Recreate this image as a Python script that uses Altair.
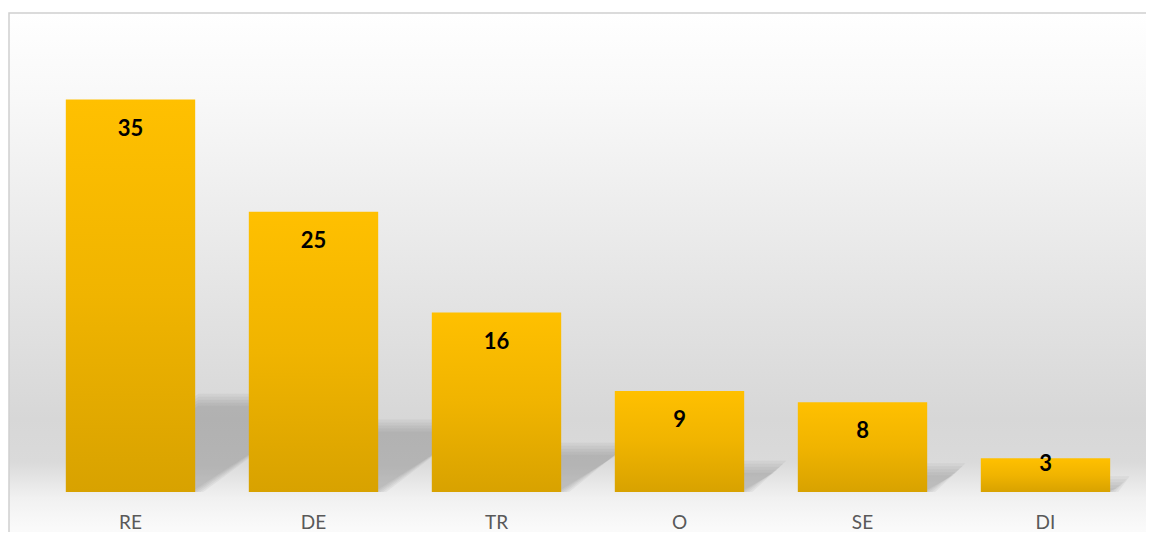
import altair as alt
import pandas as pd

categories = ["RE", "DE", "TR", "O", "SE", "DI"]
values = [35, 25, 16, 9, 8, 3]

df = pd.DataFrame({"cat": categories, "value": values})
bgdf = pd.DataFrame({"a": [0]})

W = 1098
H = 471
PX_PER_UNIT = H / 42.0
HALF_BAR = W / 6 * (1 - 0.293) / 2

bar_grad = alt.LinearGradient(
    gradient="linear", x1=0, x2=0, y1=0, y2=1,
    stops=[alt.GradientStop(color="#FFC000", offset=0),
           alt.GradientStop(color="#F0B400", offset=0.5),
           alt.GradientStop(color="#D8A200", offset=1)],
)

bg_grad = alt.LinearGradient(
    gradient="linear", x1=0, x2=0, y1=0, y2=1,
    stops=[alt.GradientStop(color="#FFFFFF", offset=0),
           alt.GradientStop(color="#F8F8F8", offset=0.16),
           alt.GradientStop(color="#E9E9E9", offset=0.43),
           alt.GradientStop(color="#D7D7D7", offset=0.74),
           alt.GradientStop(color="#DADADA", offset=0.82),
           alt.GradientStop(color="#F1F1F1", offset=0.885),
           alt.GradientStop(color="#FAFAFA", offset=0.94),
           alt.GradientStop(color="#FCFCFC", offset=1)],
)

bg = alt.Chart(bgdf).mark_rect(color=bg_grad, stroke="#D0D0D0", strokeWidth=1.5).encode(
    x=alt.value(-30), x2=alt.value(W + 60), y=alt.value(-8), y2=alt.value(H + 69)
)

xscale = alt.Scale(paddingInner=0.293, paddingOuter=0.1465, round=False)
xenc = alt.X(
    "cat:N", sort=categories, scale=xscale,
    axis=alt.Axis(title=None, labelAngle=0, labelAlign="center", labelBaseline="top",
                  domain=False, ticks=False, tickSize=0,
                  labelFont="Lato", labelFontSize=19, labelColor="#595959",
                  labelPadding=21, grid=False, zindex=1),
)
yenc = alt.Y("value:Q", scale=alt.Scale(domain=[0, 42]), axis=None)

SH = f"(0.23 * datum.value * {PX_PER_UNIT})"
DX = f"(1.47 * {SH})"
shadow_expr = (
    f"'M ' + (-{HALF_BAR}) + ' 0 L ' + ({HALF_BAR} + datum.e) + ' 0 L ' + "
    f"({HALF_BAR} + {DX} + datum.e) + ' ' + (-{SH} - datum.e) + "
    f"' L ' + (-{HALF_BAR} + {DX}) + ' ' + (-{SH} - datum.e) + ' Z'"
)

shadows = alt.Chart(df).transform_calculate(
    e="[8, 5, 2, -1, -4]"
).transform_flatten(["e"]).transform_calculate(
    shp=shadow_expr, zero="0"
).mark_point(filled=True, color="#707070", fillOpacity=0.085, strokeWidth=0, opacity=1).encode(
    x=alt.X("cat:N", sort=categories),
    y=alt.Y("zero:Q", scale=alt.Scale(domain=[0, 42]), axis=None),
    shape=alt.Shape("shp:N", scale=None, legend=None),
    size=alt.value(4),
)

bars = alt.Chart(df).mark_bar(color=bar_grad).encode(x=xenc, y=yenc)

offset_units = 29 / PX_PER_UNIT
labels = alt.Chart(df).transform_calculate(
    ly=f"datum.value > 5 ? datum.value - {offset_units} : datum.value - 0.48"
).mark_text(font="Lato", fontWeight="bold", fontSize=22, color="#000000", baseline="middle").encode(
    x=alt.X("cat:N", sort=categories),
    y=alt.Y("ly:Q", scale=alt.Scale(domain=[0, 42]), axis=None),
    text="value:Q",
)

chart = alt.layer(bg, shadows, bars, labels).properties(
    width=W, height=H,
    autosize=alt.AutoSizeParams(type="none"),
    padding={"left": 31, "top": 13, "right": 9, "bottom": 40},
).configure_view(strokeWidth=0)

chart.save("out.html", embed_options={"renderer": "svg", "actions": False})
